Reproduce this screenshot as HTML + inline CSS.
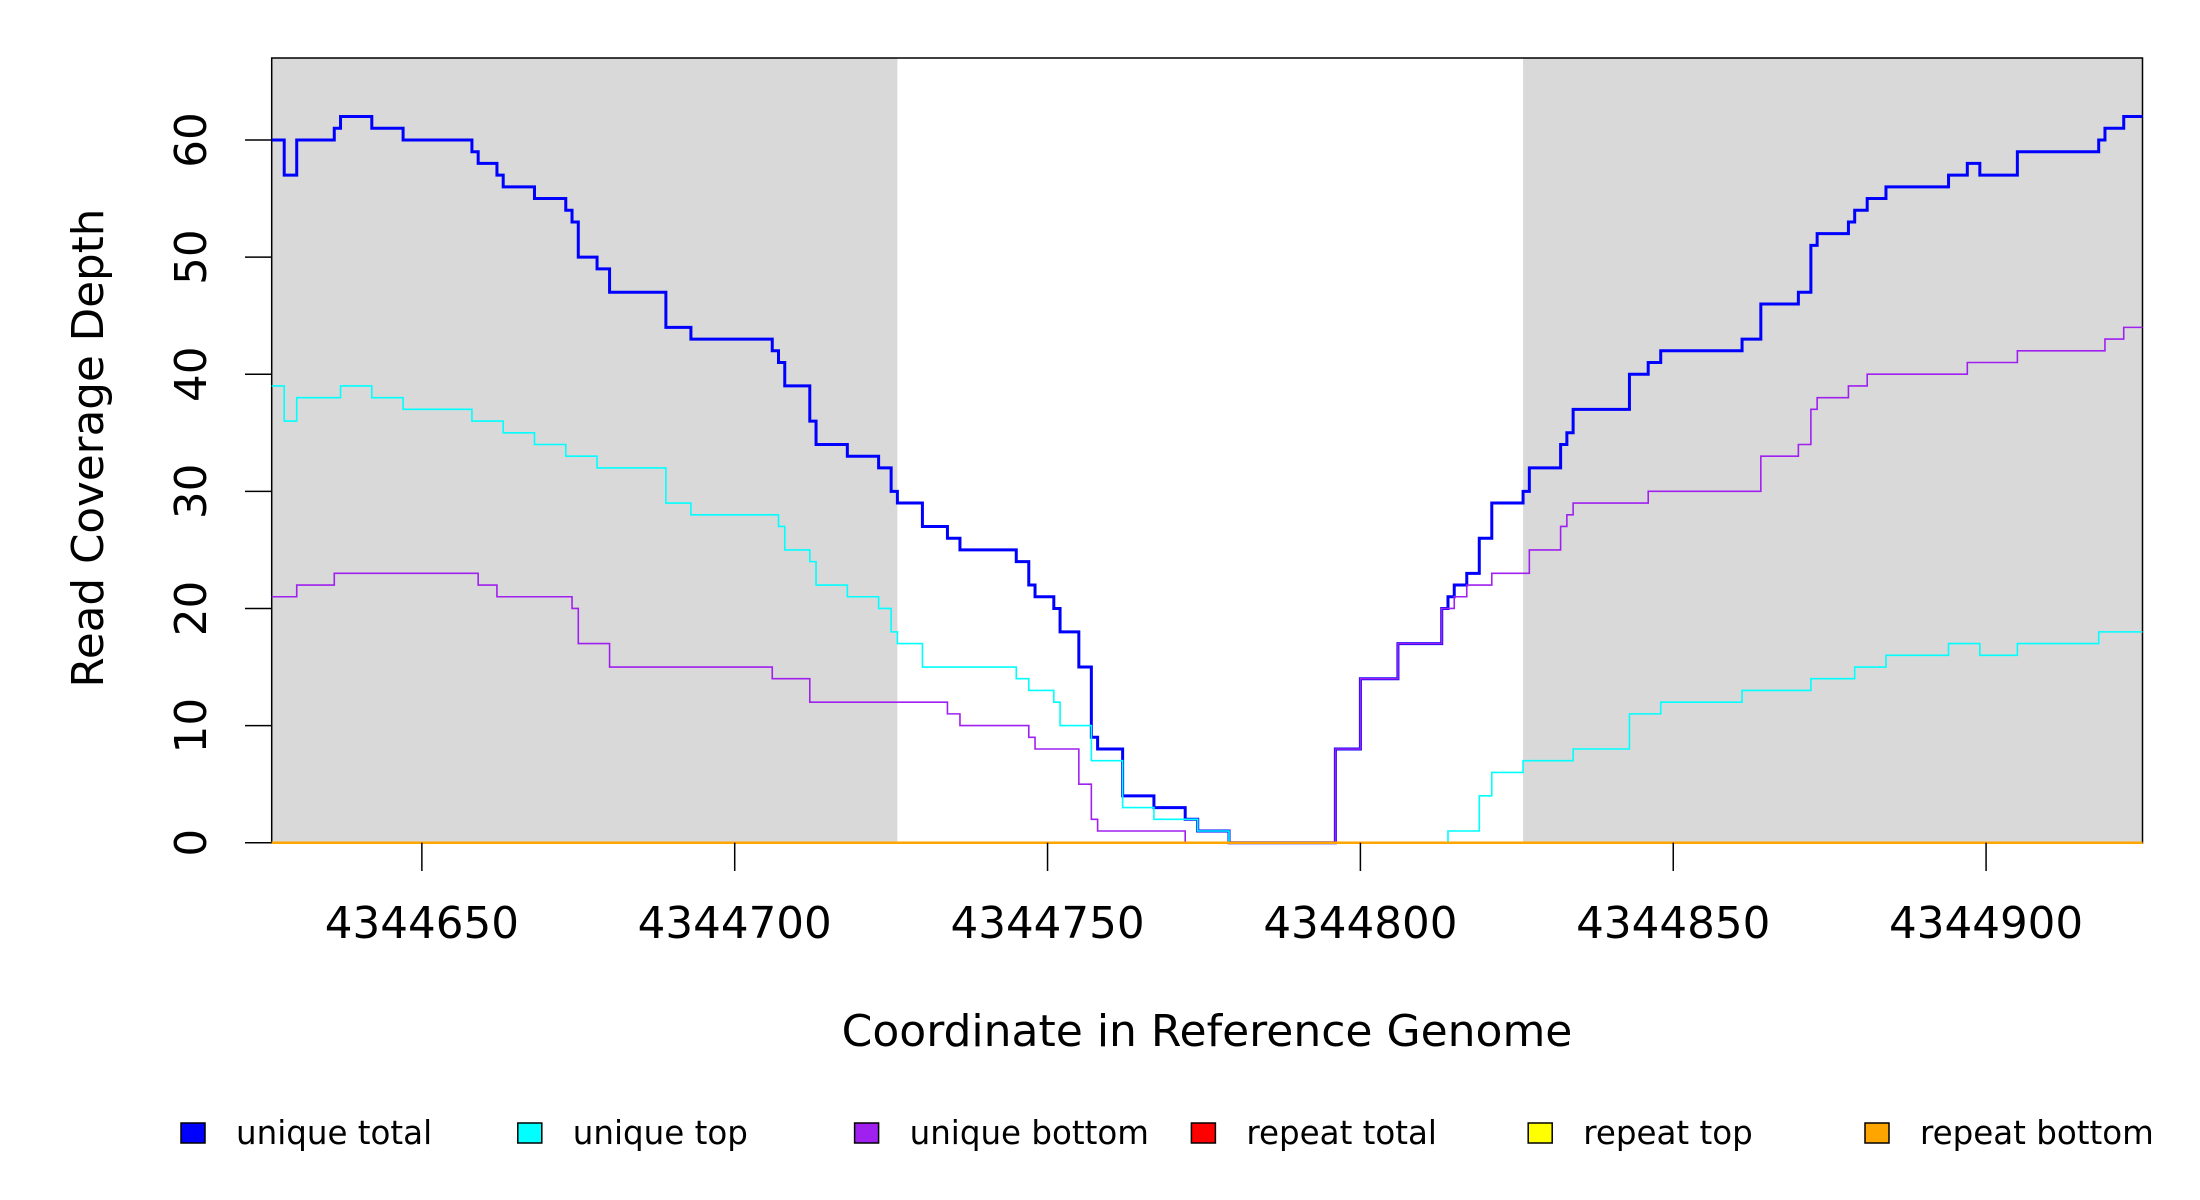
<!DOCTYPE html>
<html><head><meta charset="utf-8"><style>
html,body{margin:0;padding:0;background:#fff;}
svg{display:block;font-family:"DejaVu Sans","Liberation Sans",sans-serif;}
</style></head><body>
<svg id="chart" width="2200" height="1200" viewBox="0 0 2200 1200">
<g id="plot"></g>
</svg>
<script>
const xTicks=[4344650,4344700,4344750,4344800,4344850,4344900];
const yTicks=[0,10,20,30,40,50,60];
const grayRegions=[[4344626,4344726],[4344826,4344925]];
const utX=[4344626,4344628,4344630,4344636,4344637,4344642,4344647,4344658,4344659,4344662,4344663,4344668,4344673,4344674,4344675,4344678,4344680,4344689,4344693,4344706,4344707,4344708,4344712,4344713,4344718,4344723,4344725,4344726,4344730,4344734,4344736,4344745,4344747,4344748,4344751,4344752,4344755,4344757,4344758,4344762,4344767,4344772,4344774,4344779,4344796,4344800,4344806,4344813,4344814,4344815,4344817,4344819,4344821,4344826,4344827,4344832,4344833,4344834,4344843,4344846,4344848,4344861,4344864,4344870,4344872,4344873,4344878,4344879,4344881,4344884,4344894,4344897,4344899,4344905,4344918,4344919,4344922];
const utY=[60,57,60,61,62,61,60,59,58,57,56,55,54,53,50,49,47,44,43,42,41,39,36,34,33,32,30,29,27,26,25,24,22,21,20,18,15,9,8,4,3,2,1,0,8,14,17,20,21,22,23,26,29,30,32,34,35,37,40,41,42,43,46,47,51,52,53,54,55,56,57,58,57,59,60,61,62];
const topX=[4344626,4344628,4344630,4344637,4344642,4344647,4344658,4344663,4344668,4344673,4344678,4344689,4344693,4344707,4344708,4344712,4344713,4344718,4344723,4344725,4344726,4344730,4344745,4344747,4344751,4344752,4344757,4344762,4344767,4344774,4344779,4344814,4344819,4344821,4344826,4344834,4344843,4344848,4344861,4344872,4344879,4344884,4344894,4344899,4344905,4344918];
const topY=[39,36,38,39,38,37,36,35,34,33,32,29,28,27,25,24,22,21,20,18,17,15,14,13,12,10,7,3,2,1,0,1,4,6,7,8,11,12,13,14,15,16,17,16,17,18];
const botX=[4344626,4344630,4344636,4344659,4344662,4344674,4344675,4344680,4344706,4344712,4344734,4344736,4344747,4344748,4344755,4344757,4344758,4344772,4344796,4344800,4344806,4344813,4344815,4344817,4344821,4344827,4344832,4344833,4344834,4344846,4344864,4344870,4344872,4344873,4344878,4344881,4344897,4344905,4344919,4344922];
const botY=[21,22,23,22,21,20,17,15,14,12,11,10,9,8,5,2,1,0,8,14,17,20,21,22,23,25,27,28,29,30,33,34,37,38,39,40,41,42,43,44];
const repX=[4344626];
const repY=[0];
const legendLabels=["unique total","unique top","unique bottom","repeat total","repeat top","repeat bottom"];
const legendColors=["#0000FF","#00FFFF","#A020F0","#FF0000","#FFFF00","#FFA500"];

const X0=271.7,X1=2142.5,Y0=842.7,Y1=58;
const xmin=4344626,xmax=4344925,ymin=0,ymax=67;
const sx=v=>X0+(v-xmin)/(xmax-xmin)*(X1-X0);
const sy=v=>Y0-(v-ymin)/(ymax-ymin)*(Y0-Y1);
const NS="http://www.w3.org/2000/svg";
const svg=document.getElementById('chart');
function mk(tag,attrs,parent){const e=document.createElementNS(NS,tag);for(const k in attrs)e.setAttribute(k,attrs[k]);(parent||svg).appendChild(e);return e;}

grayRegions.forEach((r,i)=>{
  const e=mk('rect',{x:sx(r[0]),y:Y1,width:sx(r[1])-sx(r[0]),height:Y0-Y1,fill:'#D9D9D9'});
  
  
});
const box=mk('rect',{x:X0,y:Y1,width:X1-X0,height:Y0-Y1,fill:'none',stroke:'#000','stroke-width':1.5});


function stepPath(xs,ys){
  let d='M'+sx(xs[0])+','+sy(ys[0]);
  for(let i=1;i<xs.length;i++){d+=' H'+sx(xs[i])+' V'+sy(ys[i]);}
  d+=' H'+sx(xmax);
  return d;
}
function series(xs,ys,color,w,name){
  const e=mk('path',{d:stepPath(xs,ys),fill:'none',stroke:color,'stroke-width':w});
  
  
}
series(utX,utY,'#0000FF',3,'unique-total-line');
series(topX,topY,'#00FFFF',1.6,'unique-top-line');
series(botX,botY,'#A020F0',1.6,'unique-bottom-line');
series(repX,repY,'#FF0000',2.5,'repeat-total-line');
series(repX,repY,'#FFFF00',2.5,'repeat-top-line');
series(repX,repY,'#FFA500',2.5,'repeat-bottom-line');

xTicks.forEach(v=>{
  const t=mk('line',{x1:sx(v),x2:sx(v),y1:Y0,y2:871,stroke:'#000','stroke-width':1.5});
  
  
  const l=mk('text',{x:sx(v),y:938,'text-anchor':'middle','font-size':43.6});
  l.textContent=v;
  
  
});
yTicks.forEach(v=>{
  const t=mk('line',{x1:245,x2:X0,y1:sy(v),y2:sy(v),stroke:'#000','stroke-width':1.5});
  
  
  const l=mk('text',{x:0,y:0,'text-anchor':'middle','font-size':43.6,transform:'translate(206,'+sy(v)+') rotate(-90)'});
  l.textContent=v;
  
  
});
const yt=mk('text',{x:0,y:0,'text-anchor':'middle','font-size':43.6,transform:'translate(103,448) rotate(-90)'});
yt.textContent='Read Coverage Depth';


const xt=mk('text',{x:1207,y:1046,'text-anchor':'middle','font-size':44});
xt.textContent='Coordinate in Reference Genome';



legendLabels.forEach((lab,i)=>{
  const bx=181+i*336.8;
  const g=mk('g',{});
  
  
  const r=mk('rect',{x:bx,y:1123,width:24,height:20,fill:legendColors[i],stroke:'#000','stroke-width':1.5},g);
  
  
  const t=mk('text',{x:bx+55,y:1144,'font-size':32.5},g);
  t.textContent=lab;
  
  
});
</script>
</body></html>
